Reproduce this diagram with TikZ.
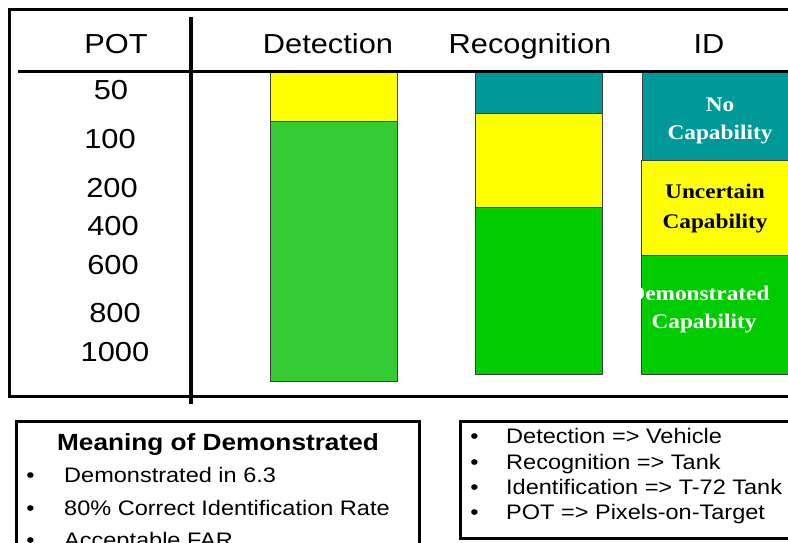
\documentclass[tikz,border=0pt]{standalone}
\usepackage{fontspec}
\newfontfamily\hv[FakeStretch=1.12]{Liberation Sans}
\newfontfamily\tm[FakeStretch=1.12]{Liberation Serif}
\definecolor{ylw}{HTML}{FFFF00}
\definecolor{grnA}{HTML}{33CC33}
\definecolor{grnB}{HTML}{00CC00}
\definecolor{tealc}{HTML}{009999}
\begin{document}
\begin{tikzpicture}[x=1pt,y=-1pt,
  bar/.style={draw=black!75, line width=0.8pt},
  thick3/.style={line width=3pt},
  head/.style={font=\hv\fontsize{27.5}{30}\selectfont, inner sep=0pt, anchor=base},
  num/.style={font=\hv\fontsize{27.5}{30}\selectfont, inner sep=0pt, anchor=base},
  caplabel/.style={font=\tm\bfseries\fontsize{20.8}{24}\selectfont, inner sep=0pt, anchor=base},
  ttl/.style={font=\hv\bfseries\fontsize{23.4}{26}\selectfont, inner sep=0pt, anchor=base},
  itm/.style={font=\hv\fontsize{21}{24}\selectfont, inner sep=0pt, anchor=base west},
  bul/.style={font=\hv\fontsize{21}{24}\selectfont, inner sep=0pt, anchor=base}]
\clip (0,0) rectangle (788,542);
\fill[white] (0,0) rectangle (788,542);
% bars
\path[bar, fill=ylw]  (270,71) rectangle (397,121);
\path[bar, fill=grnA] (270,121) rectangle (397,381);
\path[bar, fill=tealc] (475,71) rectangle (602,113);
\path[bar, fill=ylw]  (475,113) rectangle (602,207);
\path[bar, fill=grnB] (475,207) rectangle (602,374);
\path[bar, fill=tealc] (642,71) rectangle (820,160);
\path[bar, fill=ylw]  (641,160) rectangle (820,255);
\path[bar, fill=grnB] (641,255) rectangle (820,374);
% table frame
\draw[thick3] (800,9.5) -- (9.5,9.5) -- (9.5,396.5) -- (800,396.5);
\draw[thick3] (18,71) -- (800,71);
\draw[line width=3.5pt] (191,17) -- (191,404);
% headers
\node[head] (hpot) at (116,53) {POT};
\node[head] (hdet) at (328,53) {Detection};
\node[head] (hrec) at (530,53) {Recognition};
\node[head] (hid)  at (709,53) {ID};
% numbers
\node[num] (n50)   at (111,99) {50};
\node[num] (n100)  at (110,148) {100};
\node[num] (n200)  at (112,197) {200};
\node[num] (n400)  at (113,235.5) {400};
\node[num] (n600)  at (113,274) {600};
\node[num] (n800)  at (115,322) {800};
\node[num] (n1000) at (115,361) {1000};
% ID bar labels
\node[caplabel, text=white] (no1) at (720,111) {No};
\node[caplabel, text=white] (no2) at (720,139) {Capability};
\node[caplabel, text=black] (un1) at (715,198) {Uncertain};
\node[caplabel, text=black] (un2) at (715,228) {Capability};
\begin{scope}
  \clip (641.4,255) rectangle (820,374);
  \node[caplabel, text=white] (de1) at (699,300.5) {Demonstrated};
  \node[caplabel, text=white] (de2) at (704,328) {Capability};
\end{scope}
% bottom left box
\draw[thick3] (16.5,560) -- (16.5,421) -- (419,421) -- (419,560);
\node[ttl] (mt) at (218,450) {Meaning of Demonstrated};
\node[bul] (b1) at (30.5,482) {•};
\node[itm] (t1) at (64,482) {Demonstrated in 6.3};
\node[bul] (b2) at (30.5,515) {•};
\node[itm] (t2) at (64,515) {80\% Correct Identification Rate};
\node[bul] (b3) at (30.5,547) {•};
\node[itm] (t3) at (64,547) {Acceptable FAR};
% bottom right box
\draw[thick3] (800,421) -- (460,421) -- (460,538.5) -- (800,538.5);
\node[bul] (r1b) at (474.5,443) {•};
\node[itm] (r1) at (506,443) {Detection => Vehicle};
\node[bul] (r2b) at (474.5,469) {•};
\node[itm] (r2) at (506,469) {Recognition => Tank};
\node[bul] (r3b) at (474.5,494) {•};
\node[itm] (r3) at (506,494) {Identification => T-72 Tank};
\node[bul] (r4b) at (474.5,519) {•};
\node[itm] (r4) at (506,519) {POT => Pixels-on-Target};
\end{tikzpicture}
\end{document}
